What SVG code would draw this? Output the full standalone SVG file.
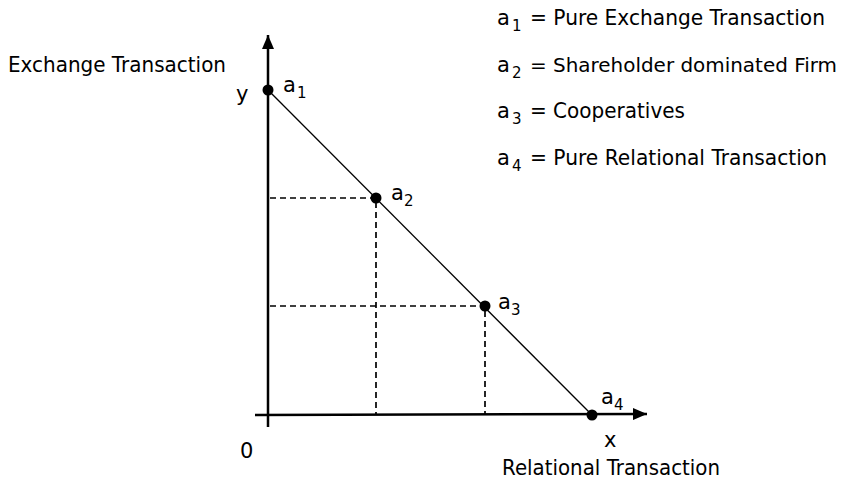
<svg xmlns="http://www.w3.org/2000/svg" width="845" height="483" viewBox="0 0 845 483">
<style>
text{font-family:"DejaVu Sans","Liberation Sans",sans-serif;fill:#000;font-size:21px}
.sub{font-size:15px}
.axis{stroke:#000;stroke-width:2.5;fill:none}
.diag{stroke:#000;stroke-width:1.3;fill:none}
.dash{stroke:#000;stroke-width:1.7;stroke-dasharray:6,4;fill:none}
.pt{fill:#000}
</style>
<defs>
<marker id="ah" viewBox="0 0 14 12" refX="14" refY="6" markerWidth="14" markerHeight="12" markerUnits="userSpaceOnUse" orient="auto">
<path d="M0,0 L14,6 L0,12 Z" fill="#000"/>
</marker>
</defs>
<rect width="845" height="483" fill="#fff"/>
<g id="connectors">
<line class="axis" x1="268" y1="427" x2="268" y2="35" marker-end="url(#ah)"/>
<line class="axis" x1="255" y1="415" x2="647" y2="414" marker-end="url(#ah)"/>
<line class="diag" x1="268" y1="90" x2="592" y2="415"/>
<path class="dash" d="M270,198 H376 V414"/>
<path class="dash" d="M270,306 H485 V414"/>
</g>
<g id="a1"><circle class="pt" cx="268" cy="90" r="5.5"/><text x="283" y="92">a</text><text class="sub" x="297" y="98">1</text></g>
<g id="a2"><circle class="pt" cx="376" cy="198" r="5.5"/><text x="391" y="200">a</text><text class="sub" x="404" y="206">2</text></g>
<g id="a3"><circle class="pt" cx="485" cy="306" r="5.5"/><text x="498" y="309">a</text><text class="sub" x="511" y="315">3</text></g>
<g id="a4"><circle class="pt" cx="592" cy="415" r="5.5"/><text x="601" y="404">a</text><text class="sub" x="614" y="410">4</text></g>
<g id="labels">
<text x="8" y="72" textLength="218" lengthAdjust="spacingAndGlyphs">Exchange Transaction</text>
<text x="236" y="101">y</text>
<text x="240" y="458">0</text>
<text x="604" y="447">x</text>
<text x="502" y="475" textLength="218" lengthAdjust="spacingAndGlyphs">Relational Transaction</text>
</g>
<g id="legend">
<text x="497" y="25">a</text><text class="sub" x="512" y="31">1</text><text x="530" y="25" textLength="295" lengthAdjust="spacingAndGlyphs">= Pure Exchange Transaction</text>
<text x="497" y="72">a</text><text class="sub" x="512" y="78">2</text><text x="530" y="72" style="font-size:19.8px" textLength="307" lengthAdjust="spacingAndGlyphs">= Shareholder dominated Firm</text>
<text x="497" y="118">a</text><text class="sub" x="512" y="124">3</text><text x="530" y="118" textLength="155" lengthAdjust="spacingAndGlyphs">= Cooperatives</text>
<text x="497" y="165">a</text><text class="sub" x="512" y="171">4</text><text x="530" y="165" textLength="297" lengthAdjust="spacingAndGlyphs">= Pure Relational Transaction</text>
</g>
</svg>
